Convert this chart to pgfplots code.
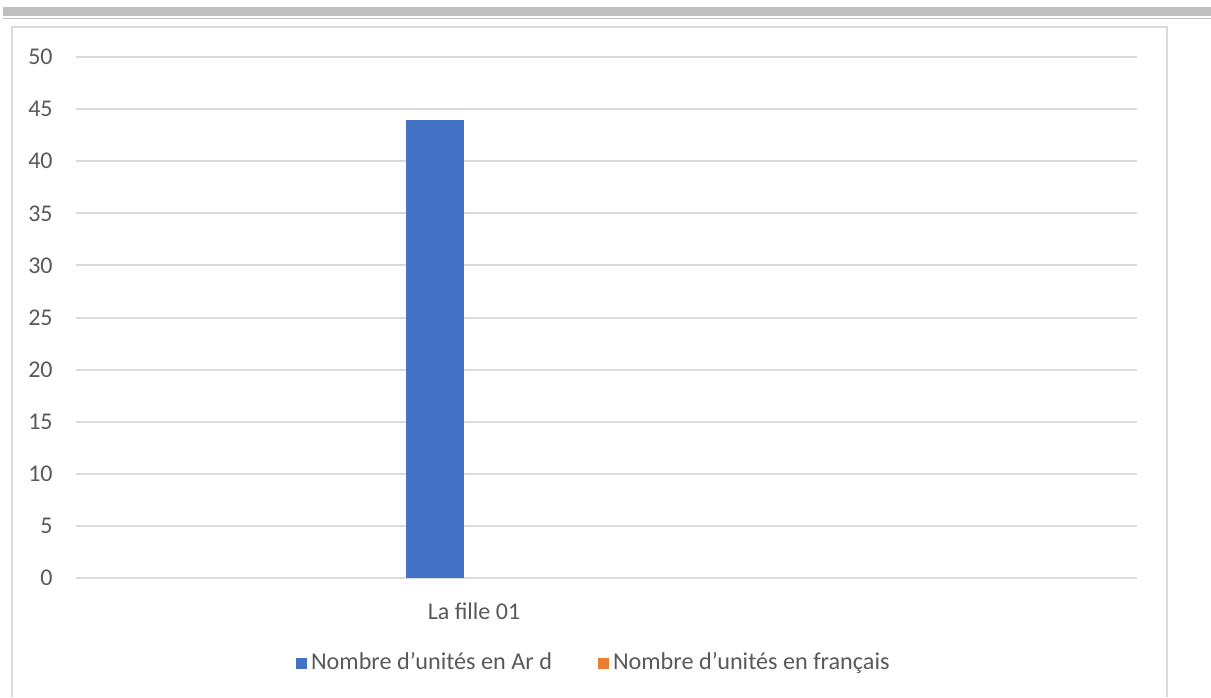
\documentclass[border=0pt]{standalone}
\usepackage{fontspec}
\setmainfont{Carlito}
\usepackage{pgfplots}
\pgfplotsset{compat=1.18}
\definecolor{barblue}{HTML}{4472C4}
\definecolor{barorange}{HTML}{ED7D31}
\definecolor{gridgray}{HTML}{D9D9D9}
\definecolor{txtgray}{HTML}{595959}
\definecolor{bandgray}{HTML}{BFBFBF}
\begin{document}
\begin{tikzpicture}
\useasboundingbox (0pt,0pt) rectangle (605.5pt,348.5pt);
\fill[bandgray] (1.5pt,345pt) rectangle (605.5pt,340.5pt);
\fill[bandgray] (1.5pt,339.5pt) rectangle (605.5pt,338.8pt);
\draw[gridgray,line width=1pt] (5.75pt,0pt) -- (5.75pt,335pt) -- (583.25pt,335pt) -- (583.25pt,0pt);
\begin{axis}[
  at={(38pt,59.5pt)}, anchor=south west,
  scale only axis, width=530.5pt, height=260.5pt,
  xmin=0, xmax=1061, ymin=0, ymax=50,
  axis line style={draw=none},
  ymajorgrids, grid style={gridgray, line width=1pt},
  ytick={0,5,...,50},
  xtick={398}, xticklabels={La fille 01},
  major tick length=0pt,
  tick label style={font=\fontsize{12}{14}\selectfont, text=txtgray},
  /pgf/number format/assume math mode=true,
  yticklabel style={inner sep=0pt, xshift=-11.5pt},
  xticklabel style={inner sep=0pt, yshift=-12pt},
  legend style={at={(0.489,-0.163)}, anchor=center, draw=none, fill=none,
    legend columns=2, font=\fontsize{12.1}{14}\selectfont, text=txtgray,
    /tikz/every even column/.append style={column sep=21pt}},
]
\addplot[ybar, bar width=29pt, bar shift=0pt, fill=barblue, draw=none,
  legend image code/.code={\fill[barblue] (0pt,-3pt) rectangle (5.5pt,2.5pt);}]
  coordinates {(359,44)};
\addlegendentry{Nombre d’unités en Ar d}
\addplot[ybar, bar width=29pt, bar shift=0pt, fill=none, draw=none,
  legend image code/.code={\fill[barorange] (0pt,-3pt) rectangle (5.5pt,2.5pt);}]
  coordinates {(417,0)};
\addlegendentry{Nombre d’unités en français}
\end{axis}
\end{tikzpicture}
\end{document}
